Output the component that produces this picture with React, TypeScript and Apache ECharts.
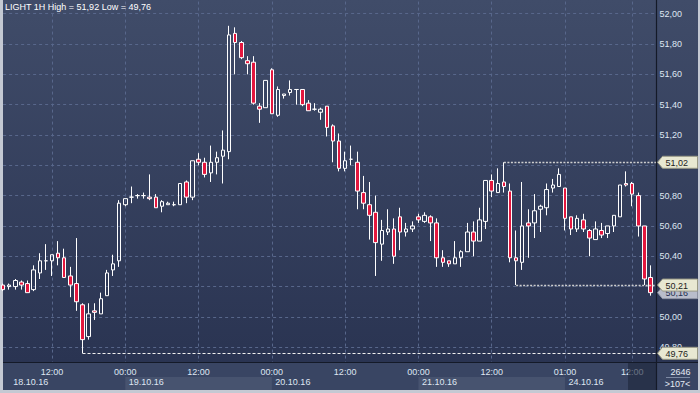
import React, { useEffect, useRef } from "react";
import * as echarts from "echarts";

const symbolName = "LIGHT";
const timeframe = "1H";
const totalBars = 2646;

const dayLabels = ["18.10.16", "19.10.16", "20.10.16", "21.10.16", "24.10.16"];
const dayFirstHour = [4, 0, 0, 0, 1];
const dayLastHour = [23, 23, 23, 23, 15];

const opens = [
  50.21, 50.2, 50.2, 50.23, 50.22, 50.18, 50.29, 50.37, 50.37, 50.42,
  50.39, 50.27, 50.22, 50.08, 49.87, 50.04, 50.02, 50.14, 50.31, 50.37,
  50.74, 50.79, 50.8, 50.8, 50.79, 50.79, 50.73, 50.74, 50.74, 50.74,
  50.89, 50.79, 51.04, 51.02, 50.95, 51.02, 51.06, 51.09, 51.87, 51.81,
  51.69, 51.68, 51.39, 51.38, 51.63, 51.33, 51.46, 51.48, 51.5, 51.5,
  51.41, 51.37, 51.35, 51.39, 51.26, 51.16, 50.98, 51.04, 51.02, 50.82,
  50.74, 50.69, 50.48, 50.56, 50.58, 50.66, 50.56, 50.58, 50.66, 50.63,
  50.66, 50.62, 50.39, 50.37, 50.35, 50.39, 50.43, 50.56, 50.5, 50.63,
  50.9, 50.82, 50.89, 50.83, 50.39, 50.36, 50.62, 50.62, 50.71, 50.72,
  50.85, 50.86, 50.85, 50.66, 50.58, 50.64, 50.57, 50.51, 50.57, 50.55,
  50.6, 50.66, 50.88, 50.88, 50.8, 50.6, 50.26,
];
const closes = [
  50.18, 50.21, 50.24, 50.21, 50.16, 50.31, 50.37, 50.37, 50.41, 50.39,
  50.26, 50.21, 50.1, 49.85, 50.02, 50.03, 50.12, 50.29, 50.35, 50.75,
  50.78, 50.79, 50.8, 50.8, 50.78, 50.72, 50.76, 50.75, 50.74, 50.88,
  50.79, 51.03, 51.02, 50.94, 51.02, 51.05, 51.1, 51.86, 51.81, 51.71,
  51.67, 51.41, 51.37, 51.56, 51.34, 51.5, 51.47, 51.5, 51.5, 51.4,
  51.36, 51.37, 51.37, 51.25, 51.16, 50.98, 51.03, 51.04, 50.83, 50.75,
  50.67, 50.49, 50.57, 50.58, 50.4, 50.56, 50.58, 50.6, 50.64, 50.67,
  50.62, 50.39, 50.36, 50.35, 50.39, 50.43, 50.56, 50.5, 50.64, 50.9,
  50.83, 50.88, 50.86, 50.39, 50.37, 50.6, 50.6, 50.7, 50.73, 50.84,
  50.87, 50.94, 50.65, 50.58, 50.65, 50.58, 50.52, 50.58, 50.54, 50.6,
  50.67, 50.87, 50.87, 50.81, 50.6, 50.25, 50.16,
];
const lows = [
  50.17, 50.18, 50.18, 50.18, 50.16, 50.17, 50.25, 50.31, 50.27, 50.34,
  50.26, 50.13, 50.04, 49.76, 49.85, 49.98, 50.02, 50.14, 50.27, 50.33,
  50.73, 50.75, 50.78, 50.78, 50.77, 50.72, 50.69, 50.74, 50.73, 50.74,
  50.75, 50.77, 51.0, 50.92, 50.89, 50.94, 50.88, 51.04, 51.6, 51.7,
  51.6, 51.4, 51.28, 51.38, 51.34, 51.32, 51.44, 51.46, 51.4, 51.39,
  51.36, 51.36, 51.3, 51.19, 51.02, 50.96, 50.96, 51.0, 50.71, 50.71,
  50.51, 50.27, 50.37, 50.54, 50.35, 50.44, 50.53, 50.56, 50.62, 50.62,
  50.5, 50.33, 50.33, 50.33, 50.35, 50.33, 50.43, 50.4, 50.5, 50.58,
  50.79, 50.82, 50.82, 50.36, 50.21, 50.31, 50.39, 50.52, 50.56, 50.67,
  50.82, 50.86, 50.57, 50.54, 50.56, 50.56, 50.4, 50.51, 50.52, 50.52,
  50.56, 50.66, 50.86, 50.73, 50.53, 50.21, 50.14,
];
const highs = [
  50.22, 50.22, 50.25, 50.24, 50.24, 50.34, 50.42, 50.48, 50.41, 50.5,
  50.45, 50.33, 50.52, 50.09, 50.09, 50.09, 50.16, 50.31, 50.41, 50.77,
  50.78, 50.86, 50.81, 50.82, 50.94, 50.81, 50.77, 50.76, 50.76, 50.88,
  50.9, 51.03, 51.08, 51.05, 51.13, 51.09, 51.23, 51.92, 51.91, 51.82,
  51.72, 51.72, 51.41, 51.56, 51.64, 51.52, 51.47, 51.56, 51.5, 51.5,
  51.43, 51.41, 51.38, 51.39, 51.27, 51.21, 51.09, 51.13, 51.09, 50.93,
  50.89, 50.8, 50.64, 50.71, 50.65, 50.72, 50.62, 50.63, 50.68, 50.69,
  50.67, 50.65, 50.44, 50.37, 50.5, 50.44, 50.62, 50.63, 50.72, 50.9,
  50.94, 50.98, 51.02, 50.88, 50.57, 50.89, 50.71, 50.81, 50.74, 50.88,
  50.91, 50.98, 50.85, 50.66, 50.67, 50.68, 50.58, 50.63, 50.62, 50.6,
  50.67, 50.87, 50.96, 50.89, 50.82, 50.6, 50.34,
];

const levelValues = [51.02, 50.21, 49.76];
const levelStartIdx = [82, 84, 13];

const FONT = "Liberation Sans";
const LABEL_COLOR = "#dfe6f2";

const Y_MIN = 49.6;
const Y_MAX = 52.08;

const times: string[] = [];
const dayOf: number[] = [];
const dayStartIdx: number[] = [];
dayLabels.forEach((d, di) => {
  dayStartIdx.push(times.length);
  for (let h = dayFirstHour[di]; h <= dayLastHour[di]; h++) {
    times.push(String(h).padStart(2, "0") + ":00");
    dayOf.push(di);
  }
});
const timeTickSet = new Set<number>();
times.forEach((t, i) => {
  const h = parseInt(t, 10);
  const isStart = dayStartIdx.indexOf(i) >= 0;
  if (h % 12 === 0 || (isStart && dayOf[i] > 0)) timeTickSet.add(i);
});
const dayStartSet = new Set<number>(dayStartIdx);

const fmt = (v: number) => v.toFixed(2).replace(".", ",");

export default function App() {
  const ref = useRef<HTMLDivElement>(null);
  useEffect(() => {
    const chart = echarts.init(ref.current!, null, { renderer: "svg" });
    const n = times.length;
    const hi = Math.max(...highs);
    const lo = Math.min(...lows);
    const lastClose = closes[closes.length - 1];
    const tagValues = [...levelValues, lastClose];

    const catAxisBase = {
      type: "category",
      data: times,
      boundaryGap: false,
      max: n,
      axisLine: { show: false },
      axisTick: { show: false },
    };

    chart.setOption({
      animation: false,
      title: {
        text: `${symbolName} ${timeframe} High = ${fmt(hi)} Low = ${fmt(lo)}`,
        left: 5,
        top: 2.5,
        padding: 0,
        textStyle: { color: "#ffffff", fontSize: 9, fontWeight: "normal", fontFamily: FONT },
      },
      grid: { left: 3.14, right: 43.41, top: 1.57, height: 375.97, show: false },
      xAxis: [
        {
          ...catAxisBase,
          axisLabel: { show: false },
          splitLine: {
            show: true,
            interval: (i: number) => timeTickSet.has(i),
            lineStyle: { color: "#58678b", type: [3, 3], width: 1 },
          },
        },
        {
          ...catAxisBase,
          position: "bottom",
          offset: -15.5,
          z: 10,
          splitLine: { show: false },
          axisLabel: {
            show: true,
            interval: (i: number) => timeTickSet.has(i),
            color: LABEL_COLOR,
            fontSize: 9,
            fontFamily: FONT,
            margin: 5,
          },
        },
        {
          ...catAxisBase,
          position: "bottom",
          offset: -15.5,
          z: 10,
          splitLine: { show: false },
          axisLabel: {
            show: true,
            interval: (i: number) => dayStartSet.has(i),
            align: "left",
            margin: 15.5,
            formatter: (_v: string, i: number) =>
              i === 0 ? `{f|${dayLabels[dayOf[i]]}}` : `{d|${dayLabels[dayOf[i]]}}`,
            rich: {
              f: { color: LABEL_COLOR, fontSize: 9, fontFamily: FONT, padding: [0, 0, 0, 10] },
              d: { color: LABEL_COLOR, fontSize: 9, fontFamily: FONT, padding: [0, 0, 0, 3.5] },
            },
          },
        },
      ],
      yAxis: {
        type: "value",
        position: "right",
        min: Y_MIN,
        max: Y_MAX,
        interval: 0.2,
        axisLine: { show: false },
        axisTick: { show: false },
        splitLine: {
          show: true,
          showMaxLine: false,
          lineStyle: { color: "#58678b", type: [3, 3], width: 1 },
        },
        axisLabel: {
          margin: 3,
          color: LABEL_COLOR,
          fontSize: 9,
          fontFamily: FONT,
          formatter: (v: number) => {
            if (v < 49.7 || v > 52.05) return "";
            if (tagValues.some((t) => Math.abs(t - v) < 0.03)) return "";
            return fmt(v);
          },
        },
      },
      series: [
        {
          type: "candlestick",
          data: opens.map((o, i) => [o, closes[i], lows[i], highs[i]]),
          barWidth: 4,
          itemStyle: {
            color: "rgba(0,0,0,0)",
            color0: "#e3173e",
            borderColor: "#ffffff",
            borderColor0: "#ffffff",
            borderColorDoji: "#ffffff",
            borderWidth: 1,
          },
        },
      ],
    });

    const xPix = (i: number) => chart.convertToPixel({ xAxisIndex: 0 }, i) as number;
    const yPix = (v: number) => chart.convertToPixel({ yAxisIndex: 0 }, v) as number;

    const plotBg = {
      type: "linear", x: 0, y: 0, x2: 0, y2: 1,
      colorStops: [
        { offset: 0, color: "#404c69" },
        { offset: 1, color: "#2a3452" },
      ],
    };

    const g: any[] = [];
    g.push({ type: "rect", z: -10, shape: { x: 3, y: 0, width: 695, height: 362 }, style: { fill: plotBg } });
    g.push({ type: "rect", z: 5, shape: { x: 3, y: 362, width: 653, height: 28 }, style: { fill: "#394563" } });
    g.push({ type: "rect", z: 5, shape: { x: 657, y: 362, width: 41, height: 28 }, style: { fill: "#394563" } });
    dayStartIdx.forEach((s, di) => {
      if (di % 2 === 1) {
        const e = di + 1 < dayStartIdx.length ? dayStartIdx[di + 1] : n;
        const x0 = xPix(s);
        const x1 = xPix(e);
        g.push({ type: "rect", z: 6, shape: { x: x0, y: 377, width: x1 - x0, height: 13 }, style: { fill: "#47536f" } });
      }
    });
    g.push({ type: "rect", z: 12, shape: { x: 628, y: 363, width: 28, height: 27 }, style: { fill: "rgba(30,38,60,0.62)" } });

    const xEnd = xPix(n);
    levelValues.forEach((v, k) => {
      const y = Math.round(yPix(v)) + 0.5;
      g.push({
        type: "line",
        z: 4,
        shape: { x1: xPix(levelStartIdx[k]), y1: y, x2: xEnd, y2: y },
        style:
          k === 2
            ? { stroke: "#f0f0f0", lineWidth: 1, lineDash: [3, 2] }
            : { stroke: "#cfcfcf", lineWidth: 1.5, lineDash: [2, 1.5] },
      });
    });

    g.push({ type: "line", z: 14, shape: { x1: 656.5, y1: 0, x2: 656.5, y2: 390 }, style: { stroke: "#141a28", lineWidth: 1.2 } });
    g.push({ type: "line", z: 14, shape: { x1: 3, y1: 362.5, x2: 698, y2: 362.5 }, style: { stroke: "#141a28", lineWidth: 1.2 } });
    g.push({ type: "text", z: 14, x: 680.5, y: 371.5, style: { text: String(totalBars), fill: "#e6ebf3", font: `9px "${FONT}"`, align: "center", verticalAlign: "middle", textAlign: "center", textVerticalAlign: "middle" } });
    g.push({ type: "line", z: 14, shape: { x1: 666, y1: 377.5, x2: 690, y2: 377.5 }, style: { stroke: "#7d89a3", lineWidth: 1 } });
    g.push({ type: "text", z: 14, x: 677.5, y: 383.5, style: { text: `>${n}<`, fill: "#e6ebf3", font: `9px "${FONT}"`, align: "center", verticalAlign: "middle", textAlign: "center", textVerticalAlign: "middle" } });

    const tag = (v: number, fill: string, stroke: string, textColor: string, z: number) => {
      const y = yPix(v);
      g.push({
        type: "polygon",
        z,
        shape: { points: [[657.5, y], [662.5, y - 6], [697.5, y - 6], [697.5, y + 6], [662.5, y + 6]] },
        style: { fill, stroke, lineWidth: 1 },
      });
      g.push({
        type: "text",
        z: z + 1,
        x: 665.5,
        y: y + 0.5,
        style: { text: fmt(v), fill: textColor, font: `9px "${FONT}"`, verticalAlign: "middle", textVerticalAlign: "middle" },
      });
    };
    tag(levelValues[0], "#e8e8d2", "#9a9a86", "#1c1c1c", 20);
    tag(lastClose, "#b9bdcb", "#8e93a3", "#263050", 20);
    tag(levelValues[1], "#e8e8d2", "#9a9a86", "#1c1c1c", 22);
    tag(levelValues[2], "#e8e8d2", "#9a9a86", "#1c1c1c", 24);

    chart.setOption({ graphic: g });
    return () => chart.dispose();
  }, []);

  return (
    <div
      ref={ref}
      style={{ position: "fixed", left: 0, top: 0, width: 700, height: 393, background: "#c4c9d3" }}
    />
  );
}
